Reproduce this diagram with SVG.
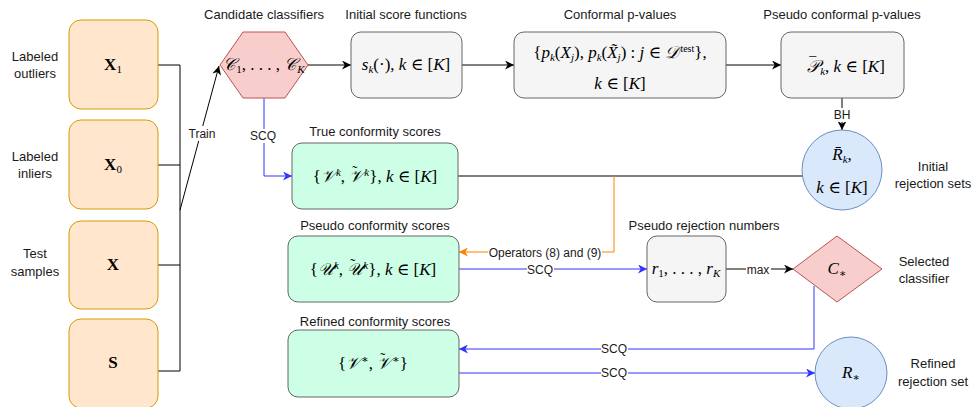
<svg xmlns="http://www.w3.org/2000/svg" width="974" height="407" viewBox="0 0 974 407">
<style>
.lbl{font-family:"Liberation Sans",Arial,sans-serif;font-size:13px;fill:#1a1a1a;text-anchor:middle}
.el{font-family:"Liberation Sans",Arial,sans-serif;font-size:12px;fill:#1a1a1a;text-anchor:middle}
.m{font-family:"Liberation Serif","DejaVu Serif",serif;font-size:17px;fill:#000;text-anchor:middle}
.i{font-style:italic}
.b{font-weight:bold}
.in{fill:#ffe6cc;stroke:#d79b00;stroke-width:1}
.gr{fill:#f5f5f5;stroke:#666666;stroke-width:1}
.gn{fill:#ccffe6;stroke:#666666;stroke-width:1}
.rd{fill:#f8cecc;stroke:#b85450;stroke-width:1}
.bl{fill:#dae8fc;stroke:#6c8ebf;stroke-width:1}
.k{fill:none;stroke:#000;stroke-width:1}
.u{fill:none;stroke:#3333ff;stroke-width:1}
.o{fill:none;stroke:#ff8000;stroke-width:1}
.bg{fill:#ffffff}
</style>
<defs>
<marker id="ak" viewBox="0 0 10 10" refX="10" refY="5" markerWidth="9" markerHeight="9" orient="auto" markerUnits="userSpaceOnUse"><path d="M0,0 L10,5 L0,10 L3,5 z" fill="#000"/></marker>
<marker id="au" viewBox="0 0 10 10" refX="10" refY="5" markerWidth="9" markerHeight="9" orient="auto" markerUnits="userSpaceOnUse"><path d="M0,0 L10,5 L0,10 L3,5 z" fill="#3333ff"/></marker>
<marker id="ao" viewBox="0 0 10 10" refX="10" refY="5" markerWidth="9" markerHeight="9" orient="auto" markerUnits="userSpaceOnUse"><path d="M0,0 L10,5 L0,10 L3,5 z" fill="#ff8000"/></marker>
</defs>

<g id="connectors">
<path class="k" d="M158,65 H180 M158,165 H180 M158,265 H180 M158,371 H180 M180,65 V371"/>
<path class="k" d="M180,210 L219,66" marker-end="url(#ak)"/>
<rect class="bg" x="187" y="126" width="30" height="15"/>
<text class="el" x="202" y="138">Train</text>
<path class="k" d="M308,65 H351" marker-end="url(#ak)"/>
<path class="k" d="M462,65 H514" marker-end="url(#ak)"/>
<path class="k" d="M726,65 H781" marker-end="url(#ak)"/>
<path class="k" d="M842,98 V130" marker-end="url(#ak)"/>
<rect class="bg" x="832" y="108" width="20" height="14"/>
<text class="el" x="842" y="119">BH</text>
<path class="u" d="M264,98 V176 H292" marker-end="url(#au)"/>
<rect class="bg" x="248" y="129" width="31" height="14"/>
<text class="el" x="263" y="140">SCQ</text>
<path class="k" d="M458,176 H803"/>
<path class="o" d="M614,176 V252 H459" marker-end="url(#ao)"/>
<rect class="bg" x="488" y="245" width="114" height="15"/>
<text class="el" x="545" y="257">Operators (8) and (9)</text>
<path class="u" d="M459,269 H647" marker-end="url(#au)"/>
<rect class="bg" x="527" y="263" width="27" height="13"/>
<text class="el" x="540" y="274">SCQ</text>
<path class="k" d="M726,269 H793" marker-end="url(#ak)"/>
<rect class="bg" x="746" y="263" width="25" height="13"/>
<text class="el" x="758" y="274">max</text>
<path class="u" d="M814,286 V349 H459" marker-end="url(#au)"/>
<rect class="bg" x="601" y="343" width="27" height="13"/>
<text class="el" x="614" y="353">SCQ</text>
<path class="u" d="M459,373 H815" marker-end="url(#au)"/>
<rect class="bg" x="601" y="367" width="27" height="13"/>
<text class="el" x="614" y="377">SCQ</text>
</g>

<g id="n-x1">
<rect class="in" x="69" y="20" width="89" height="89" rx="12"/>
<text class="m b" x="113" y="70" font-size="17">X<tspan font-size="11" dy="3" font-weight="normal">1</tspan></text>
<text class="lbl" x="35" y="61">Labeled</text>
<text class="lbl" x="35" y="78">outliers</text>
</g>
<g id="n-x0">
<rect class="in" x="69" y="120" width="89" height="89" rx="12"/>
<text class="m b" x="113" y="170" font-size="17">X<tspan font-size="11" dy="3" font-weight="normal">0</tspan></text>
<text class="lbl" x="35" y="161">Labeled</text>
<text class="lbl" x="35" y="178">inliers</text>
</g>
<g id="n-x">
<rect class="in" x="69" y="221" width="89" height="88" rx="12"/>
<text class="m b" x="113" y="270" font-size="17">X</text>
<text class="lbl" x="35" y="258">Test</text>
<text class="lbl" x="35" y="276">samples</text>
</g>
<g id="n-s">
<rect class="in" x="69" y="319" width="89" height="89" rx="12"/>
<text class="m b" x="113" y="368" font-size="17">S</text>
</g>

<g id="n-cand">
<polygon class="rd" points="220,65 243,32 285,32 308,65 285,98 243,98"/>
<text class="m" x="264" y="70" font-size="16"><tspan class="i">𝒞</tspan><tspan font-size="11" dx="1" dy="3">1</tspan><tspan dy="-3">, . . . , </tspan><tspan class="i">𝒞</tspan><tspan class="i" font-size="11" dx="1" dy="3">K</tspan></text>
<text class="lbl" x="264" y="19">Candidate classifiers</text>
</g>

<g id="n-score">
<rect class="gr" x="351" y="32" width="111" height="66" rx="10"/>
<text class="m" x="406" y="70"><tspan class="i">s</tspan><tspan class="i" font-size="11" dy="3">k</tspan><tspan dy="-3">(·), </tspan><tspan class="i">k</tspan> ∈ [<tspan class="i">K</tspan>]</text>
<text class="lbl" x="406" y="19">Initial score functions</text>
</g>

<g id="n-pval">
<rect class="gr" x="514" y="32" width="212" height="66" rx="10"/>
<text class="m" x="620" y="58">{<tspan class="i">p</tspan><tspan class="i" font-size="11" dy="3">k</tspan><tspan dy="-3">(</tspan><tspan class="i">X</tspan><tspan class="i" font-size="11" dy="3">j</tspan><tspan dy="-3">), </tspan><tspan class="i">p</tspan><tspan class="i" font-size="11" dy="3">k</tspan><tspan dy="-3">(</tspan><tspan class="i">X̃</tspan><tspan class="i" font-size="11" dy="3">j</tspan><tspan dy="-3">) : </tspan><tspan class="i">j</tspan> ∈ <tspan class="i">𝒟</tspan><tspan font-size="10" dx="1" dy="-6">test</tspan><tspan dy="6">},</tspan></text>
<text class="m" x="620" y="89"><tspan class="i">k</tspan> ∈ [<tspan class="i">K</tspan>]</text>
<text class="lbl" x="620" y="19">Conformal p-values</text>
</g>

<g id="n-pseudo-p">
<rect class="gr" x="781" y="32" width="123" height="66" rx="10"/>
<text class="m" x="842" y="72"><tspan dx="4" dy="-5" font-size="14">¯</tspan><tspan class="i" dx="-9" dy="5">𝒫</tspan><tspan class="i" font-size="11" dx="1" dy="3">k</tspan><tspan dy="-3">, </tspan><tspan class="i">k</tspan> ∈ [<tspan class="i">K</tspan>]</text>
<text class="lbl" x="842" y="19">Pseudo conformal p-values</text>
</g>

<g id="n-rk">
<circle class="bl" cx="842" cy="170" r="40"/>
<text class="m" x="842" y="160"><tspan class="i">R̄</tspan><tspan class="i" font-size="11" dy="3">k</tspan><tspan dy="-3">,</tspan></text>
<text class="m" x="842" y="193"><tspan class="i">k</tspan> ∈ [<tspan class="i">K</tspan>]</text>
<text class="lbl" x="933" y="171">Initial</text>
<text class="lbl" x="933" y="188">rejection sets</text>
</g>

<g id="n-true">
<rect class="gn" x="292" y="143" width="166" height="66" rx="10"/>
<text class="m" x="375" y="182">{<tspan class="i">𝒱</tspan><tspan class="i" font-size="11" dx="1" dy="-6">k</tspan><tspan dy="6">, </tspan><tspan dx="3" dy="-6" font-size="15">˜</tspan><tspan class="i" dx="-8" dy="6">𝒱</tspan><tspan class="i" font-size="11" dx="1" dy="-6">k</tspan><tspan dy="6">}, </tspan><tspan class="i">k</tspan> ∈ [<tspan class="i">K</tspan>]</text>
<text class="lbl" x="375" y="136">True conformity scores</text>
</g>

<g id="n-pseudo-s">
<rect class="gn" x="288" y="236" width="171" height="66" rx="10"/>
<text class="m" x="373" y="275">{<tspan class="i">𝒰</tspan><tspan class="i" font-size="11" dx="1" dy="-6">k</tspan><tspan dy="6">, </tspan><tspan dx="3" dy="-6" font-size="15">˜</tspan><tspan class="i" dx="-8" dy="6">𝒰</tspan><tspan class="i" font-size="11" dx="1" dy="-6">k</tspan><tspan dy="6">}, </tspan><tspan class="i">k</tspan> ∈ [<tspan class="i">K</tspan>]</text>
<text class="lbl" x="375" y="230">Pseudo conformity scores</text>
</g>

<g id="n-rnum">
<rect class="gr" x="647" y="236" width="79" height="66" rx="10"/>
<text class="m" x="686" y="274"><tspan class="i">r</tspan><tspan font-size="11" dy="3">1</tspan><tspan dy="-3">, . . . , </tspan><tspan class="i">r</tspan><tspan class="i" font-size="11" dy="3">K</tspan></text>
<text class="lbl" x="704" y="230">Pseudo rejection numbers</text>
</g>

<g id="n-sel">
<polygon class="rd" points="793,269 837,236 882,269 837,302"/>
<text class="m" x="837" y="274"><tspan class="i">C</tspan><tspan font-size="11" dy="3">∗</tspan></text>
<text class="lbl" x="924" y="266">Selected</text>
<text class="lbl" x="924" y="283">classifier</text>
</g>

<g id="n-refined">
<rect class="gn" x="288" y="330" width="171" height="67" rx="10"/>
<text class="m" x="373" y="369">{<tspan class="i">𝒱</tspan><tspan font-size="11" dx="1" dy="-6">∗</tspan><tspan dy="6">, </tspan><tspan dx="3" dy="-6" font-size="15">˜</tspan><tspan class="i" dx="-8" dy="6">𝒱</tspan><tspan font-size="11" dx="1" dy="-6">∗</tspan><tspan dy="6">}</tspan></text>
<text class="lbl" x="375" y="326">Refined conformity scores</text>
</g>

<g id="n-rstar">
<circle class="bl" cx="851" cy="373" r="36"/>
<text class="m" x="851" y="378"><tspan class="i">R</tspan><tspan font-size="11" dy="3">∗</tspan></text>
<text class="lbl" x="933" y="368">Refined</text>
<text class="lbl" x="933" y="386">rejection set</text>
</g>
</svg>
